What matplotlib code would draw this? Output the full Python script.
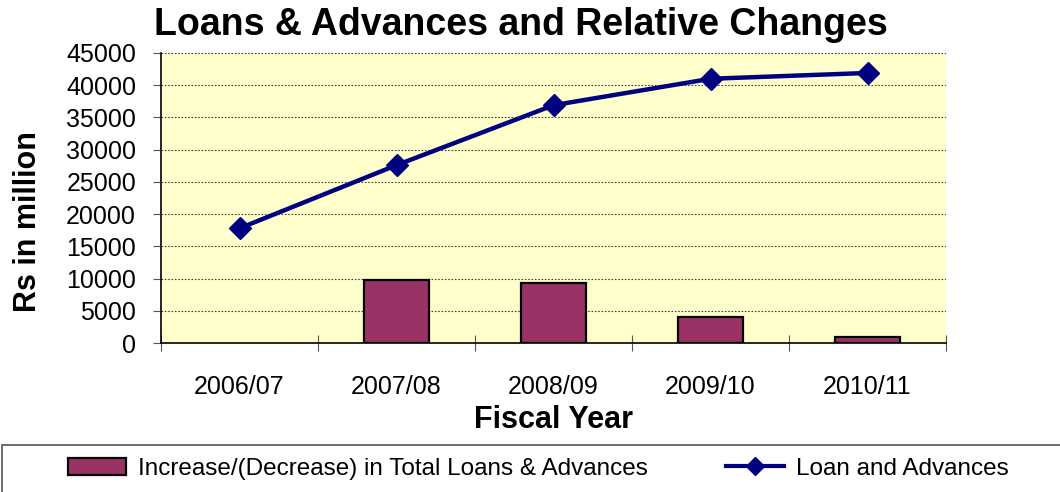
import matplotlib
matplotlib.use("Agg")
import matplotlib.pyplot as plt
from matplotlib.patches import Rectangle
from matplotlib.lines import Line2D
from matplotlib.patches import Patch

plt.rcParams["font.family"] = ["Liberation Sans", "DejaVu Sans"]

years = ["2006/07", "2007/08", "2008/09", "2009/10", "2010/11"]
loans = [17800, 27600, 36900, 41000, 41900]
change = [0, 9800, 9300, 4100, 900]
y_ticks = [0, 5000, 10000, 15000, 20000, 25000, 30000, 35000, 40000, 45000]

BAR_COLOR = "#993366"
LINE_COLOR = "#000080"

fig = plt.figure(figsize=(10.6, 4.92), dpi=100)
ax = fig.add_axes([0.1519, 0.3028, 0.7406, 0.5895])
ax.set_facecolor("#FFFFCC")

x = list(range(len(years)))
# first year has no prior figure, so no bar is drawn for it
bar_x = [i for i, v in zip(x, change) if v]
bar_v = [v for v in change if v]
ax.bar(bar_x, bar_v, width=0.41, color=BAR_COLOR, edgecolor="black", linewidth=1.6, zorder=3)
ax.plot(x, loans, color=LINE_COLOR, lw=3.2, marker="D", markersize=11.5, zorder=4)

ax.set_xlim(-0.5, len(years) - 0.5)
ax.set_ylim(0, 45000)
ax.set_yticks(y_ticks)
ax.set_yticklabels([str(v) for v in y_ticks], fontsize=18)
ax.yaxis.grid(True, color="#444444", ls=(0, (1.5, 1.5)), lw=0.8, zorder=1)
ax.set_axisbelow(True)

# category labels sit between the boundary ticks
ax.set_xticks([i - 0.5 for i in range(len(years) + 1)])
ax.set_xticklabels([])
ax.set_xticks(x, minor=True)
ax.set_xticklabels(years, minor=True, fontsize=18)
ax.tick_params(axis="x", which="major", direction="inout", length=12, color="#555555")
ax.tick_params(axis="x", which="minor", length=0, pad=23)
ax.tick_params(axis="y", direction="out", length=6, color="#555555", pad=12)

for side in ["top", "right"]:
    ax.spines[side].set_visible(False)
ax.spines["left"].set_linewidth(1.2)
ax.spines["bottom"].set_linewidth(1.2)

ax.set_xlabel("Fiscal Year", fontsize=22, fontweight="bold", labelpad=4)
fig.text(0.026, 0.55, "Rs in million", rotation=90, fontsize=22, fontweight="bold",
         ha="center", va="center")
fig.text(0.491, 0.95, "Loans & Advances and Relative Changes", fontsize=27,
         fontweight="bold", ha="center", va="center")

# legend frame running off the right edge
fig.patches.append(Rectangle((0.002, -0.05), 1.1, 0.145, transform=fig.transFigure,
                             fill=False, edgecolor="#555555", lw=1.2))
handles = [
    Patch(facecolor=BAR_COLOR, edgecolor="black", linewidth=1.6),
    Line2D([0], [0], color=LINE_COLOR, lw=3, marker="D", markersize=9),
]
fig.legend(handles, ["Increase/(Decrease) in Total Loans & Advances", "Loan and Advances"],
           loc="center", bbox_to_anchor=(0.508, 0.047), ncol=2, frameon=False,
           fontsize=17.5, columnspacing=3.2, handlelength=2.4, handletextpad=0.5)

fig.savefig("out.png", dpi=100)
